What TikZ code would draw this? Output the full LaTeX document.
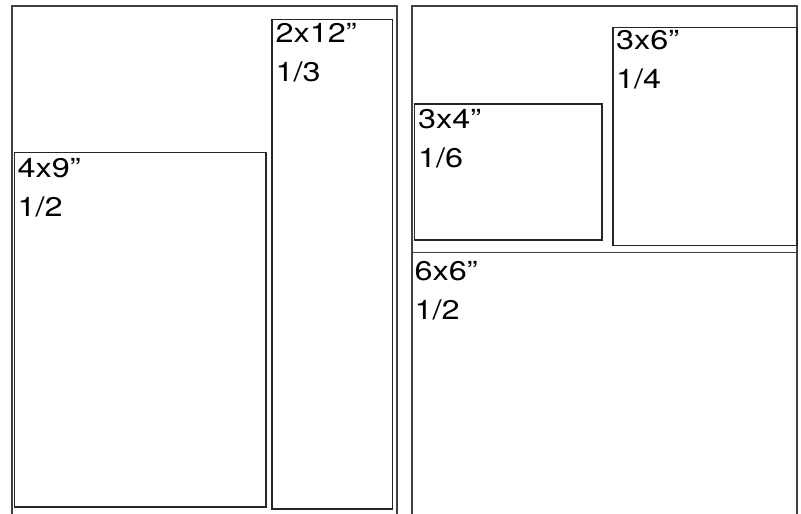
\documentclass[tikz,border=0pt]{standalone}
\usepackage{fontspec}
\setmainfont{TeX Gyre Heros}
\newcommand{\widetxt}[1]{\scalebox{1.2}[1]{#1}}
\tikzset{
  frame/.style={draw=black!75, line width=1.6pt},
  box/.style={draw=black!85, line width=1.2pt},
  lbl/.style={anchor=base west, inner sep=0pt, font=\fontsize{27}{27}\selectfont, text=black},
}
\begin{document}
\begin{tikzpicture}[x=1pt,y=-1pt]
\useasboundingbox (0,0) rectangle (801,514);
% left panel frame
\draw[frame] (12,514) -- (12,6) -- (397,6) -- (397,514);
% right panel frame
\draw[frame] (412,514) -- (412,6) -- (797,6) -- (797,514);
% left panel boxes
\draw[box] (14.5,152.5) rectangle (266,507);
\draw[box] (272,19.5) rectangle (392.5,509);
% right panel boxes
\draw[box] (414.5,104) rectangle (602,240);
\draw[box] (613,27.5) rectangle (797,245.5);
\draw[frame] (412,252.3) -- (797,252.3);
% labels
\node[lbl] (a1) at (275.5,42) {\widetxt{2x12”}};
\node[lbl] (a2) at (275.5,81) {\widetxt{1/3}};
\node[lbl] (b1) at (17.5,177) {\widetxt{4x9”}};
\node[lbl] (b2) at (17.5,216) {\widetxt{1/2}};
\node[lbl] (c1) at (418,128.5) {\widetxt{3x4”}};
\node[lbl] (c2) at (418,167.5) {\widetxt{1/6}};
\node[lbl] (d1) at (616,49) {\widetxt{3x6”}};
\node[lbl] (d2) at (616,88) {\widetxt{1/4}};
\node[lbl] (e1) at (414.5,280) {\widetxt{6x6”}};
\node[lbl] (e2) at (414.5,319) {\widetxt{1/2}};
\end{tikzpicture}
\end{document}
